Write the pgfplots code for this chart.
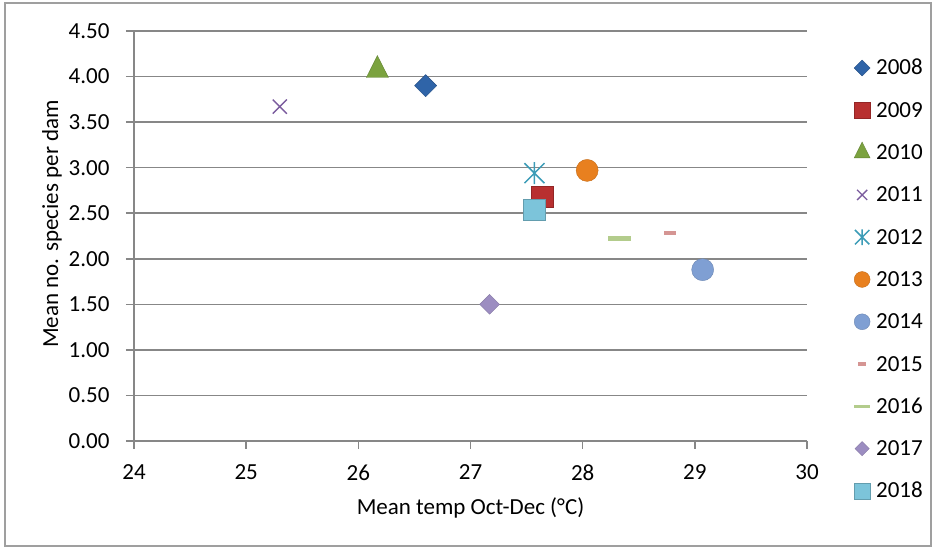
\documentclass[border=0pt]{standalone}
\usepackage{pgfplots}
\pgfplotsset{compat=1.18}
\usepackage{fontspec}
\setmainfont{Carlito}
\definecolor{cA}{HTML}{2F64A8}
\definecolor{cB}{HTML}{B83030}
\definecolor{cC}{HTML}{7BA23F}
\definecolor{cD}{HTML}{7B5C9E}
\definecolor{cE}{HTML}{3C9CB7}
\definecolor{cF}{HTML}{E8801F}
\definecolor{cG}{HTML}{7F9FD3}
\definecolor{cH}{HTML}{D59593}
\definecolor{cI}{HTML}{B3CC8C}
\definecolor{cJ}{HTML}{9C8DC1}
\definecolor{cK}{HTML}{7CC4DA}
\definecolor{gridgray}{HTML}{878787}
\pgfdeclareplotmark{exstar}{%
  \pgfpathmoveto{\pgfqpoint{-\pgfplotmarksize}{-\pgfplotmarksize}}%
  \pgfpathlineto{\pgfqpoint{\pgfplotmarksize}{\pgfplotmarksize}}%
  \pgfpathmoveto{\pgfqpoint{-\pgfplotmarksize}{\pgfplotmarksize}}%
  \pgfpathlineto{\pgfqpoint{\pgfplotmarksize}{-\pgfplotmarksize}}%
  \pgfpathmoveto{\pgfqpoint{0pt}{-1.1\pgfplotmarksize}}%
  \pgfpathlineto{\pgfqpoint{0pt}{1.1\pgfplotmarksize}}%
  \pgfusepathqstroke}
\pgfdeclareplotmark{dashA}{%
  \pgfpathrectangle{\pgfqpoint{-6pt}{-2.2pt}}{\pgfqpoint{12pt}{4.5pt}}\pgfusepathqfill}
\pgfdeclareplotmark{dashB}{%
  \pgfpathrectangle{\pgfqpoint{-11.5pt}{-2.5pt}}{\pgfqpoint{23pt}{5pt}}\pgfusepathqfill}
\begin{document}
\begin{tikzpicture}[x=1pt,y=1pt]
\path[use as bounding box] (0,0) rectangle (937,548);
\draw[gridgray!80, line width=1.5pt] (5,2) rectangle (931,545);
\begin{axis}[
  at={(134pt,107pt)}, anchor=south west,
  scale only axis, width=673pt, height=410pt,
  xmin=24, xmax=30, ymin=0, ymax=4.5,
  xtick={24,25,...,30}, ytick={0,0.5,...,4.5},
  axis x line*=bottom, axis y line*=left,
  axis line style={gridgray, line width=1.6pt},
  tick style={gridgray, line width=1.6pt},
  major tick length=8pt, tick align=outside,
  ymajorgrids, grid style={gridgray, line width=1.6pt},
  /pgf/number format/assume math mode=true,
  yticklabel style={xshift=-13pt, /pgf/number format/.cd, fixed, fixed zerofill, precision=2},
  xticklabel style={yshift=-12pt, /pgf/number format/.cd, fixed, precision=0},
  tick label style={font=\fontsize{23}{27}\selectfont, text=black},
  label style={font=\fontsize{23}{27}\selectfont},
  xlabel={Mean temp Oct-Dec (°C)},
  ylabel={Mean no. species per dam},
  xlabel style={at={(rel axis cs:0.5,-0.163)}, anchor=center},
  ylabel style={at={(rel axis cs:-0.122,0.529)}, anchor=center},
  legend style={at={(rel axis cs:1.069,0.942)}, anchor=north west, draw=none,
    font=\fontsize{23}{27}\selectfont, inner sep=0pt,
    nodes={inner sep=0pt, text height=16pt, text depth=0pt, anchor=west},
    row sep=22.3pt, column sep=5.5pt},
  legend image code/.code={%
    \draw[#1, overlay, every mark/.append style={scale=0.72}] plot coordinates {(8.5pt,-1pt)};
    \path[draw=none, fill=none] (0pt,0pt) rectangle (17pt,12pt);},
  legend cell align=left,
  clip=false,
]
\addplot[only marks, mark=square*, mark size=7.8pt, mark options={rotate=45, fill=cA, draw=cA!80!black, line width=0.4pt}] coordinates {(26.60,3.90)};
\addlegendentry{2008}
\addplot[only marks, mark=square*, mark size=10.8pt, mark options={fill=cB, draw=cB!80!black, line width=0.4pt}] coordinates {(27.64,2.68)};
\addlegendentry{2009}
\addplot[only marks, mark=triangle*, mark size=12.7pt, mark options={yscale=1.15, fill=cC, draw=cC!80!black, line width=0.4pt}] coordinates {(26.17,4.07)};
\addlegendentry{2010}
\addplot[only marks, mark=x, mark size=10pt, mark options={draw=cD, line width=1.4pt}] coordinates {(25.30,3.67)};
\addlegendentry{2011}
\addplot[only marks, mark=exstar, mark size=10pt, mark options={draw=cE, line width=1.5pt}] coordinates {(27.57,2.94)};
\addlegendentry{2012}
\addplot[only marks, mark=*, mark size=11pt, mark options={fill=cF, draw=cF!85!black, line width=0.4pt}] coordinates {(28.04,2.97)};
\addlegendentry{2013}
\addplot[only marks, mark=*, mark size=11pt, mark options={fill=cG, draw=cG!85!black, line width=0.4pt}] coordinates {(29.07,1.88)};
\addlegendentry{2014}
\addplot[only marks, mark=dashA, mark options={fill=cH, draw=cH}] coordinates {(28.78,2.28)};
\addlegendentry{2015}
\addplot[only marks, mark=dashB, mark options={fill=cI, draw=cI}] coordinates {(28.33,2.22)};
\addlegendentry{2016}
\addplot[only marks, mark=square*, mark size=7pt, mark options={rotate=45, fill=cJ, draw=cJ!85!black, line width=0.4pt}] coordinates {(27.17,1.50)};
\addlegendentry{2017}
\addplot[only marks, mark=square*, mark size=10.8pt, mark options={fill=cK, draw=cK!80!black, line width=0.4pt}] coordinates {(27.57,2.54)};
\addlegendentry{2018}
\end{axis}
\end{tikzpicture}
\end{document}
